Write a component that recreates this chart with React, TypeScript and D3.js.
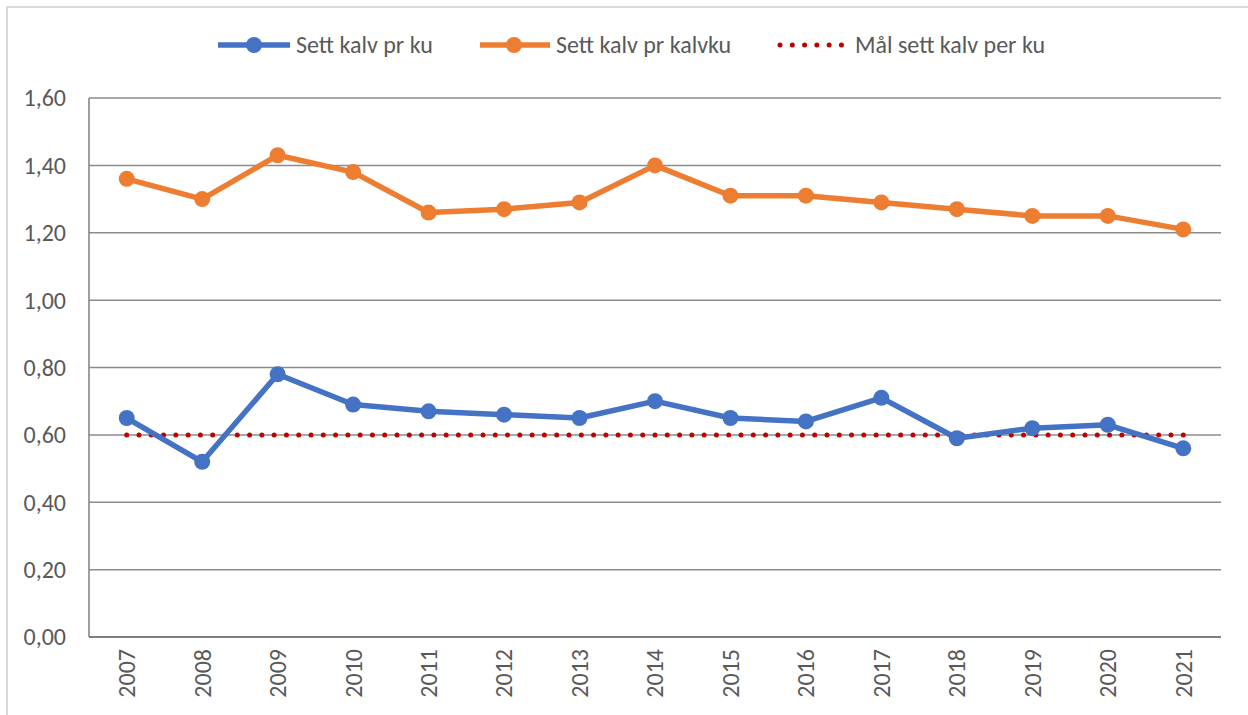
import * as React from 'react';
import * as d3 from 'd3';

const years = ['2007', '2008', '2009', '2010', '2011', '2012', '2013', '2014', '2015', '2016', '2017', '2018', '2019', '2020', '2021'];
const perCow = [0.65, 0.52, 0.78, 0.69, 0.67, 0.66, 0.65, 0.70, 0.65, 0.64, 0.71, 0.59, 0.62, 0.63, 0.56];
const perCalvingCow = [1.36, 1.30, 1.43, 1.38, 1.26, 1.27, 1.29, 1.40, 1.31, 1.31, 1.29, 1.27, 1.25, 1.25, 1.21];
const target = [0.60, 0.60, 0.60, 0.60, 0.60, 0.60, 0.60, 0.60, 0.60, 0.60, 0.60, 0.60, 0.60, 0.60, 0.60];
const yTicks = [0, 0.2, 0.4, 0.6, 0.8, 1.0, 1.2, 1.4, 1.6];

const W = 1248, H = 715;
const margin = { left: 89, right: 27, top: 98, bottom: 78 };
const font = 'Carlito, Calibri, "Open Sans", sans-serif';
const textColor = '#595959';
const blue = '#4472c4';
const orange = '#ed7d31';
const red = '#c00000';

export default function App() {
  const x = d3.scaleBand<string>().domain(years).range([margin.left, W - margin.right]);
  const y = d3.scaleLinear().domain([0, 1.6]).range([H - margin.bottom, margin.top]);
  const cx = (d: string) => (x(d) || 0) + x.bandwidth() / 2;

  const line = d3.line<number>().x((_, i) => cx(years[i])).y(d => y(d));
  const fmt = (v: number) => v.toFixed(2).replace('.', ',');

  // dots spaced so one lands on each end of the target line
  const targetLen = cx(years[years.length - 1]) - cx(years[0]);
  const dotGap = targetLen / Math.round(targetLen / 12.3);

  const series = [
    { name: 'Sett kalv pr ku', values: perCow, color: blue },
    { name: 'Sett kalv pr kalvku', values: perCalvingCow, color: orange },
  ];

  return (
    <svg width={W} height={H} style={{ position: 'absolute', left: 0, top: 0, background: '#fff' }} fontFamily={font}>
      <rect x={7} y={7} width={W} height={H + 20} fill="none" stroke="#d9d9d9" strokeWidth={2} />

      {yTicks.map(t => (
        <g key={t}>
          {t > 0 && (
            <line x1={margin.left} x2={W - margin.right} y1={y(t)} y2={y(t)} stroke="#8c8c8c" strokeWidth={1.5} />
          )}
          <text x={66} y={y(t)} dy="0.35em" textAnchor="end" fontSize={24} fill={textColor}>{fmt(t)}</text>
        </g>
      ))}
      <line x1={margin.left} x2={margin.left} y1={margin.top} y2={y(0)} stroke="#7f7f7f" strokeWidth={1.5} />
      <line x1={margin.left} x2={W - margin.right} y1={y(0)} y2={y(0)} stroke="#7f7f7f" strokeWidth={2} />

      {years.map(yr => (
        <text key={yr} transform={`translate(${cx(yr)},${y(0) + 12}) rotate(-90)`} textAnchor="end" dy="0.35em"
          fontSize={24} fill={textColor}>{yr}</text>
      ))}

      <path d={line(target) || ''} fill="none" stroke={red} strokeWidth={5} strokeLinecap="round" strokeDasharray={`0 ${dotGap}`} />

      {series.map(s => (
        <g key={s.name}>
          <path d={line(s.values) || ''} fill="none" stroke={s.color} strokeWidth={5.5} strokeLinejoin="round" />
          {s.values.map((v, i) => (
            <circle key={i} cx={cx(years[i])} cy={y(v)} r={8} fill={s.color} />
          ))}
        </g>
      ))}

      <g fontSize={24} fill={textColor}>
        <line x1={218} x2={290} y1={45} y2={45} stroke={blue} strokeWidth={5.5} />
        <circle cx={254} cy={45} r={8} fill={blue} />
        <text x={296} y={45} dy="0.35em">Sett kalv pr ku</text>

        <line x1={480} x2={550} y1={45} y2={45} stroke={orange} strokeWidth={5.5} />
        <circle cx={514} cy={45} r={8} fill={orange} />
        <text x={556} y={45} dy="0.35em">Sett kalv pr kalvku</text>

        <line x1={780} x2={845} y1={45} y2={45} stroke={red} strokeWidth={5} strokeLinecap="round" strokeDasharray={`0 ${dotGap}`} />
        <text x={855} y={45} dy="0.35em">Mål sett kalv per ku</text>
      </g>
    </svg>
  );
}
